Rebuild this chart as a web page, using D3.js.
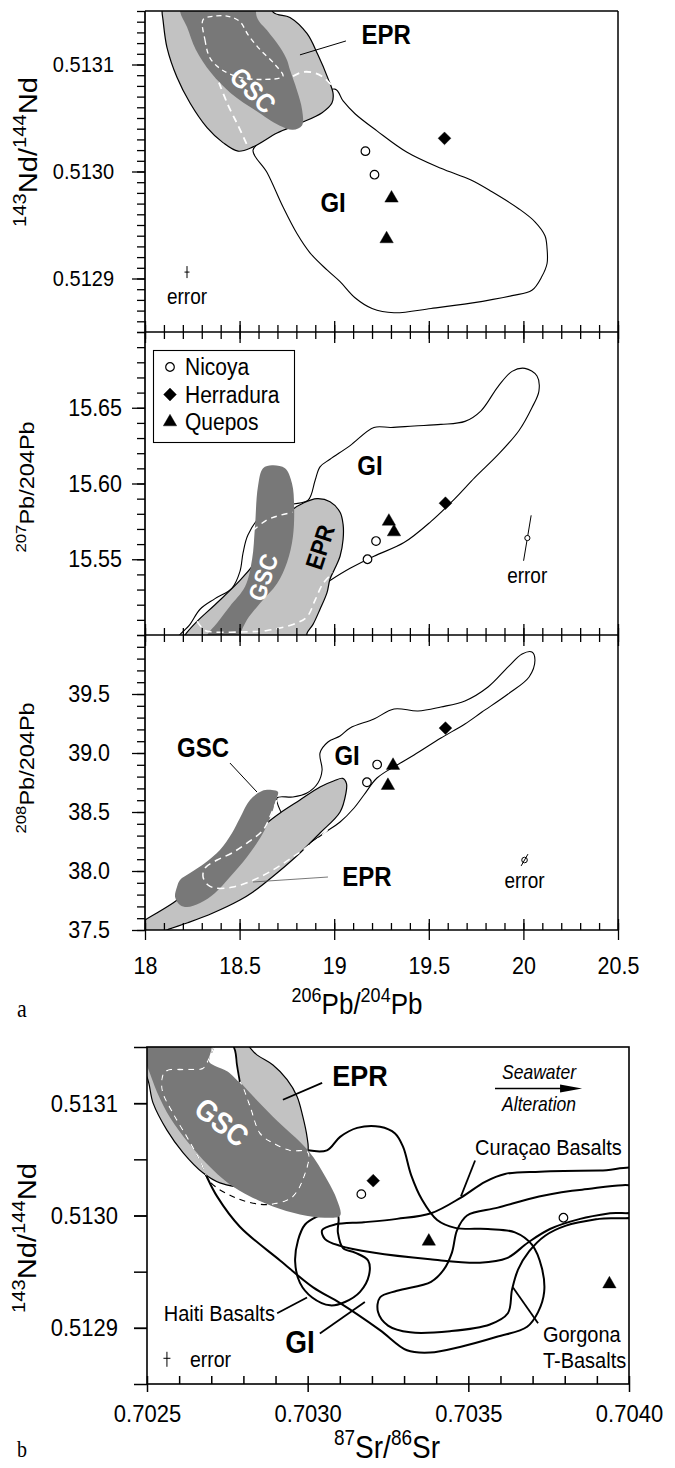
<!DOCTYPE html>
<html><head><meta charset="utf-8">
<script src="https://cdn.jsdelivr.net/npm/d3@7"></script>
<style>body{margin:0;background:#fff}svg{display:block}</style>
</head><body><svg id="c" width="675" height="1468"></svg>
<script>
// ---------------- DATA ----------------
const sampleSymbols = ["circle","circle","diamond","triangle","triangle"];
const legendNames = ["Nicoya","Herradura","Quepos"];
const legendSymbols = ["circle","diamond","triangle"];

// panel a1: 143Nd/144Nd vs 206Pb/204Pb
const pb206_p1 = [19.165,19.213,19.583,19.303,19.277];
const nd_p1    = [0.513019,0.512997,0.513031,0.512975,0.512937];
// panel a2: 207Pb/204Pb vs 206Pb/204Pb
const pb206_p2 = [19.176,19.221,19.588,19.289,19.316];
const pb207_p2 = [15.550,15.562,15.587,15.575,15.568];
// panel a3: 208Pb/204Pb vs 206Pb/204Pb
const pb206_p3 = [19.173,19.227,19.588,19.311,19.284];
const pb208_p3 = [38.752,38.902,39.211,38.894,38.724];
// panel b: 143Nd/144Nd vs 87Sr/86Sr
const sr_pb = [0.703167,0.703796,0.703204,0.703377,0.703939];
const nd_pb = [0.513019,0.512998,0.513031,0.512977,0.512939];

// tick values / labels
const xTicksA = [18,18.5,19,19.5,20,20.5];
const xLabelsA = ["18","18.5","19","19.5","20","20.5"];
const ndTicks = [0.5129,0.5130,0.5131];
const ndLabels = ["0.5129","0.5130","0.5131"];
const pb207Ticks = [15.55,15.60,15.65];
const pb207Labels = ["15.55","15.60","15.65"];
const pb208Ticks = [37.5,38.0,38.5,39.0,39.5];
const pb208Labels = ["37.5","38.0","38.5","39.0","39.5"];
const srTicks = [0.7025,0.7030,0.7035,0.7040];
const srLabels = ["0.7025","0.7030","0.7035","0.7040"];

// ---- fields, panel a1 ----
const epr_p1 = [[18.10,0.51318],[18.090,0.513150],[18.095,0.513142],[18.116,0.513116],[18.169,0.513088],[18.238,0.513064],[18.328,0.513041],[18.412,0.513027],[18.492,0.513019],[18.571,0.513023],[18.698,0.513036],[18.819,0.513045],[18.936,0.513055],[18.988,0.513064],[18.994,0.513073],[18.967,0.513087],[18.914,0.513109],[18.856,0.513129],[18.766,0.513144],[18.677,0.513149],[18.62,0.51318]];
const gsc_p1 = [[18.19,0.51318],[18.185,0.513150],[18.222,0.513135],[18.268,0.513114],[18.350,0.513092],[18.455,0.513073],[18.585,0.513057],[18.710,0.513043],[18.782,0.513039],[18.830,0.513043],[18.830,0.513058],[18.803,0.513076],[18.766,0.513095],[18.751,0.513104],[18.714,0.513116],[18.645,0.513132],[18.592,0.513144],[18.57,0.51318]];
const gi_p1 = [[18.571,0.513020],[18.645,0.512999],[18.729,0.512967],[18.803,0.512942],[18.872,0.512924],[18.962,0.512908],[19.031,0.512897],[19.110,0.512882],[19.200,0.512872],[19.316,0.512868],[19.512,0.512872],[19.723,0.512877],[19.940,0.512884],[20.045,0.512889],[20.098,0.512902],[20.125,0.512914],[20.125,0.512928],[20.114,0.512940],[20.061,0.512953],[19.977,0.512965],[19.834,0.512981],[19.723,0.512992],[19.564,0.513003],[19.385,0.513018],[19.226,0.513038],[19.110,0.513054],[19.047,0.513066],[19.004,0.513077],[18.819,0.513057],[18.661,0.513034]];
const dashLoop_p1 = [[18.307,0.513142],[18.317,0.513123],[18.344,0.513106],[18.407,0.513095],[18.502,0.513088],[18.618,0.513086],[18.729,0.513089],[18.687,0.513100],[18.608,0.513114],[18.544,0.513128],[18.502,0.513140],[18.439,0.513145],[18.359,0.513145]];
const dashA_p1 = [[18.391,0.513083],[18.439,0.513062],[18.492,0.513043],[18.539,0.513025]];
const dashB_p1 = [[18.782,0.513089],[18.835,0.513093],[18.899,0.513092],[18.951,0.513087],[18.988,0.513080]];

// ---- fields, panel a2 ----
const epr_p2 = [[18.185,15.495],[18.211,15.500],[18.275,15.509],[18.370,15.520],[18.502,15.536],[18.634,15.556],[18.740,15.576],[18.782,15.583],[18.835,15.587],[18.909,15.590],[18.978,15.588],[19.031,15.581],[19.047,15.573],[19.047,15.563],[19.031,15.552],[19.004,15.544],[18.978,15.537],[18.962,15.528],[18.925,15.517],[18.888,15.507],[18.856,15.501],[18.851,15.495]];
const gsc_p2 = [[18.317,15.495],[18.328,15.500],[18.381,15.508],[18.449,15.519],[18.529,15.532],[18.566,15.550],[18.581,15.571],[18.597,15.598],[18.624,15.610],[18.671,15.612],[18.740,15.610],[18.777,15.600],[18.788,15.585],[18.782,15.565],[18.751,15.548],[18.698,15.534],[18.608,15.521],[18.539,15.510],[18.502,15.500],[18.492,15.495]];
const gi_p2 = [[18.159,15.495],[18.238,15.507],[18.291,15.517],[18.370,15.524],[18.460,15.531],[18.502,15.542],[18.518,15.554],[18.544,15.566],[18.618,15.579],[18.766,15.586],[18.862,15.589],[18.899,15.602],[18.925,15.611],[18.978,15.616],[19.084,15.625],[19.210,15.637],[19.300,15.637],[19.422,15.638],[19.564,15.639],[19.691,15.641],[19.776,15.648],[19.866,15.664],[19.940,15.674],[20.008,15.676],[20.072,15.671],[20.082,15.661],[20.045,15.650],[19.977,15.635],[19.866,15.619],[19.744,15.604],[19.638,15.590],[19.512,15.575],[19.369,15.561],[19.210,15.552],[19.084,15.544],[18.978,15.536],[18.819,15.523],[18.661,15.510],[18.555,15.495]];
const dashA_p2 = [[18.275,15.509],[18.317,15.503],[18.359,15.502],[18.502,15.502],[18.645,15.503],[18.782,15.507],[18.856,15.512],[18.899,15.523],[18.941,15.534],[18.994,15.541]];
const dashB_p2 = [[18.571,15.569],[18.645,15.576],[18.714,15.579],[18.782,15.581]];

// ---- fields, panel a3 ----
const epr_p3 = [[17.974,37.56],[18.0,37.585],[18.148,37.729],[18.291,37.898],[18.465,38.119],[18.608,38.347],[18.645,38.407],[18.714,38.492],[18.819,38.602],[18.925,38.712],[19.0,38.765],[19.045,38.785],[19.065,38.74],[19.062,38.66],[19.031,38.500],[18.925,38.322],[18.819,38.153],[18.698,37.983],[18.571,37.822],[18.502,37.754],[18.359,37.644],[18.222,37.559],[18.116,37.5],[18.05,37.45],[17.974,37.45]];
const gsc_p3 = [[18.169,37.864],[18.159,37.780],[18.185,37.712],[18.222,37.695],[18.291,37.729],[18.370,37.814],[18.449,37.949],[18.539,38.119],[18.618,38.305],[18.661,38.449],[18.692,38.602],[18.703,38.669],[18.671,38.686],[18.618,38.678],[18.555,38.602],[18.502,38.449],[18.460,38.322],[18.396,38.178],[18.317,38.068],[18.238,37.983],[18.185,37.924]];
const gi_p3 = [[18.698,38.619],[18.782,38.627],[18.856,38.661],[18.914,38.746],[18.936,38.856],[18.925,39.0],[18.967,39.093],[19.031,39.144],[19.084,39.212],[19.210,39.288],[19.316,39.373],[19.443,39.356],[19.564,39.390],[19.691,39.441],[19.813,39.559],[19.919,39.729],[19.993,39.839],[20.045,39.856],[20.061,39.788],[20.030,39.644],[19.919,39.500],[19.781,39.347],[19.691,39.246],[19.564,39.127],[19.422,38.983],[19.332,38.898],[19.226,38.788],[19.157,38.644],[19.105,38.534],[19.031,38.415],[18.978,38.356],[18.819,38.220],[18.740,38.432]];
const dash_p3 = [[18.698,38.602],[18.671,38.500],[18.624,38.347],[18.539,38.237],[18.460,38.153],[18.381,38.093],[18.317,38.025],[18.307,37.949],[18.333,37.881],[18.370,37.856],[18.465,37.864],[18.608,37.949],[18.782,38.119],[18.925,38.288],[19.004,38.415]];

// ---- fields, panel b ----
const epr_pb = [[0.702447,0.513156],[0.702789,0.513156],[0.702842,0.513143],[0.702892,0.513134],[0.702936,0.513121],[0.702967,0.513106],[0.702985,0.513088],[0.702998,0.513070],[0.703001,0.513058],[0.702976,0.513042],[0.702914,0.513030],[0.702821,0.513025],[0.702727,0.513029],[0.702674,0.513038],[0.702612,0.513056],[0.702562,0.513076],[0.702519,0.513100],[0.7025,0.513123],[0.702463,0.513138]];
const gsc_pb = [[0.702463,0.513156],[0.702702,0.513156],[0.702702,0.513149],[0.702789,0.513119],[0.702892,0.513088],[0.703001,0.513058],[0.703060,0.513032],[0.703091,0.513014],[0.703101,0.513000],[0.703054,0.512998],[0.702976,0.513001],[0.702892,0.513008],[0.702821,0.513017],[0.702752,0.513029],[0.702690,0.513045],[0.702628,0.513065],[0.702572,0.513087],[0.702531,0.513110],[0.702503,0.513131],[0.702478,0.513147]];
const gap_pb = [[0.702693,0.513137],[0.702699,0.513146],[0.702715,0.513160],[0.702758,0.513160],[0.702777,0.513146],[0.702783,0.513132],[0.702789,0.513119],[0.702752,0.513128],[0.702712,0.513133]];
const gapEdge_pb = [[0.702752,0.513160],[0.702774,0.513147],[0.702780,0.513134],[0.702789,0.513119]];
const dash_pb = [[0.702708,0.513150],[0.702690,0.513138],[0.702674,0.513131],[0.702624,0.513130],[0.702556,0.513128],[0.702547,0.513112],[0.702581,0.513091],[0.702624,0.513070],[0.702665,0.513049],[0.702696,0.513030],[0.702774,0.513016],[0.702852,0.513010],[0.702908,0.513011],[0.702954,0.513017],[0.702985,0.513032],[0.703001,0.513056],[0.702945,0.513058],[0.702889,0.513065],[0.702852,0.513073],[0.702821,0.513097],[0.702796,0.513116],[0.702789,0.513119]];
const gi_pb = [[0.703001,0.513058],[0.703060,0.513058],[0.703101,0.513070],[0.703154,0.513078],[0.703225,0.513079],[0.703272,0.513073],[0.703297,0.513061],[0.703322,0.513036],[0.703356,0.513014],[0.703403,0.512996],[0.703459,0.512989],[0.703561,0.512988],[0.703645,0.512985],[0.703698,0.512974],[0.703729,0.512953],[0.703736,0.512932],[0.703717,0.512914],[0.703683,0.512901],[0.703589,0.512892],[0.703474,0.512883],[0.703381,0.512878],[0.703309,0.512880],[0.703225,0.512898],[0.703101,0.512922],[0.703017,0.512936],[0.702914,0.512960],[0.702789,0.512990],[0.702718,0.513017],[0.702687,0.513034],[0.702665,0.513049]];
const curacao_pb = [[0.704034,0.513040],[0.703910,0.513040],[0.703723,0.513039],[0.703614,0.513037],[0.703552,0.513030],[0.703477,0.513016],[0.703384,0.513002],[0.703278,0.512997],[0.703175,0.512994],[0.703085,0.512992],[0.703045,0.512987],[0.703054,0.512979],[0.703101,0.512973],[0.703203,0.512967],[0.703381,0.512961],[0.703536,0.512958],[0.703620,0.512962],[0.703686,0.512976],[0.703754,0.512988],[0.703848,0.512997],[0.703941,0.513002],[0.704034,0.513005]];
const gorgona_pb = [[0.704034,0.513024],[0.703854,0.513023],[0.703720,0.513017],[0.703592,0.513007],[0.703496,0.513000],[0.703465,0.512987],[0.703449,0.512967],[0.703424,0.512952],[0.703384,0.512941],[0.703278,0.512933],[0.703225,0.512927],[0.703219,0.512914],[0.703250,0.512902],[0.703319,0.512896],[0.703443,0.512897],[0.703567,0.512903],[0.703623,0.512913],[0.703636,0.512934],[0.703655,0.512952],[0.703689,0.512968],[0.703739,0.512982],[0.703804,0.512991],[0.703907,0.512997],[0.704034,0.513001]];
const haiti_pb = [[0.703029,0.512999],[0.702992,0.512992],[0.702970,0.512978],[0.702961,0.512959],[0.702976,0.512940],[0.703014,0.512927],[0.703070,0.512920],[0.703116,0.512923],[0.703163,0.512932],[0.703191,0.512947],[0.703188,0.512960],[0.703147,0.512967],[0.703110,0.512971],[0.703094,0.512985],[0.703094,0.513000],[0.703063,0.513002]];

// ---------------- SETUP ----------------
const FONT = '"Liberation Sans", Arial, Helvetica, sans-serif';
const K = 1.12;
const LIGHT = "#c2c2c2", DARK = "#787878";
const svg = d3.select("#c").attr("font-family", FONT);
svg.append("rect").attr("width",675).attr("height",1468).attr("fill","#fff");
const defs = svg.append("defs");

const xA = d3.scaleLinear().domain([18,20.5]).range([145,618]);
const y1 = d3.scaleLinear().domain([0.51285,0.51315]).range([332,11]);
const y2 = d3.scaleLinear().domain([15.50,15.70]).range([635,332]);
const y3 = d3.scaleLinear().domain([37.5,40.0]).range([930,635]);
const xB = d3.scaleLinear().domain([0.7025,0.7040]).range([147,629]);
const yB = d3.scaleLinear().domain([0.51285,0.51315]).range([1384,1047]);

function clipRect(id, sx, sy){
  const [x0,x1]=sx.range(), [ya,yb]=sy.range();
  defs.append("clipPath").attr("id",id).append("rect")
    .attr("x",x0).attr("y",Math.min(ya,yb)).attr("width",x1-x0).attr("height",Math.abs(ya-yb));
}
clipRect("k1",xA,y1); clipRect("k2",xA,y2); clipRect("k3",xA,y3); clipRect("kb",xB,yB);

const closedG=(sx,sy)=>d3.line().x(d=>sx(d[0])).y(d=>sy(d[1])).curve(d3.curveCatmullRomClosed.alpha(0.5));
const openG=(sx,sy)=>d3.line().x(d=>sx(d[0])).y(d=>sy(d[1])).curve(d3.curveCatmullRom.alpha(0.5));

function txt(g,x,y,s,o={}){
  const size=o.size||20;
  return g.append("text")
    .attr("transform",`translate(${x},${y}) rotate(${o.rot||0}) scale(1,${K})`)
    .attr("y",size*0.35).attr("text-anchor",o.anchor||"middle")
    .attr("font-size",size).attr("font-weight",o.bold?"bold":null)
    .attr("font-style",o.italic?"italic":null).attr("fill",o.fill||"#000")
    .attr("font-family",o.serif?'"Liberation Serif", "Times New Roman", serif':FONT)
    .text(s);
}
function rich(g,x,y,parts,o){
  const rotated=!!o.rot;
  const t=g.append("text").attr("text-anchor","middle").attr("font-size",o.size)
    .attr("transform",`translate(${x},${y}) rotate(${o.rot||0}) scale(${rotated?K:1},${rotated?1:K})`)
    .attr("y",o.size*0.35);
  let prevSup=false;
  parts.forEach(([s,sup])=>{
    const ts=t.append("tspan").text(s);
    if(sup){ ts.attr("font-size",o.sup); if(!prevSup) ts.attr("dy",-o.size*0.42); }
    else if(prevSup) ts.attr("dy",o.size*0.42);
    prevSup=sup;
  });
}
const symGen = {
  circle: d3.symbol(d3.symbolCircle,58)(),
  diamond: d3.symbol(d3.symbolSquare,82)(),
  triangle: d3.symbol(d3.symbolTriangle,78)()
};
function drawSym(g,type,x,y){
  g.append("path").attr("d",symGen[type])
    .attr("transform",`translate(${x},${y})${type==="diamond"?" rotate(45)":""}`)
    .attr("fill",type==="circle"?"#fff":"#000").attr("stroke","#000")
    .attr("stroke-width",type==="circle"?1.2:0.4);
}
function markers(g,xs,ys,sx,sy){
  xs.forEach((v,i)=>drawSym(g,sampleSymbols[i],sx(v),sy(ys[i])));
}
function axis(g,gen,scale,vals,size,o={}){
  const a=gen(scale).tickValues(vals).tickSize(size).tickPadding(o.pad||3)
    .tickFormat(o.labels?((d,i)=>o.labels[i]):(()=>""));
  const sel=g.append("g").attr("transform",o.tr||null).call(a);
  sel.select(".domain").remove();
  sel.attr("font-family",null).attr("font-size",null);
  sel.selectAll(".tick line").attr("stroke","#000").attr("stroke-width",o.sw||1.3);
  sel.selectAll("text").attr("font-size",o.fs||20).attr("fill","#000")
    .attr("transform",`scale(1,${K})`);
  if(o.ly!==undefined) sel.selectAll("text").attr("y",o.ly/K).attr("dy","0.35em");
  return sel;
}
function fieldLine(g,gen,data,o){
  return g.append("path").attr("d",gen(data)).attr("fill",o.fill||"none")
    .attr("stroke",o.stroke||"none").attr("stroke-width",o.sw||1)
    .attr("stroke-dasharray",o.dash||null).attr("stroke-linejoin","round");
}
function seg(g,sx,sy,a,b,o={}){
  g.append("line").attr("x1",sx(a[0])).attr("y1",sy(a[1])).attr("x2",sx(b[0])).attr("y2",sy(b[1]))
    .attr("stroke",o.stroke||"#000").attr("stroke-width",o.sw||1);
}

// ---------------- PANEL a1 ----------------
{
  const g=svg.append("g").attr("clip-path","url(#k1)");
  const C=closedG(xA,y1), O=openG(xA,y1);
  fieldLine(g,C,gi_p1,{stroke:"#000",sw:1.1});
  fieldLine(g,C,epr_p1,{fill:LIGHT,stroke:"#000",sw:1.2});
  fieldLine(g,C,gsc_p1,{fill:DARK});
  fieldLine(g,C,dashLoop_p1,{stroke:"#fff",sw:1.3,dash:"5,4"});
  fieldLine(g,O,dashA_p1,{stroke:"#fff",sw:1.8,dash:"7,5"});
  fieldLine(g,O,dashB_p1,{stroke:"#fff",sw:1.8,dash:"7,5"});
  seg(g,xA,y1,[18.819,0.513109],[19.062,0.513122],{sw:1});
  txt(g,xA(19.274),y1(0.513128),"EPR",{bold:true,size:24});
  txt(g,xA(18.571),y1(0.513076),"GSC",{bold:true,size:24,fill:"#fff",rot:45});
  txt(g,xA(18.994),y1(0.512971),"GI",{bold:true,size:24});
  markers(g,pb206_p1,nd_p1,xA,y1);
  const ex=xA(18.222), ey=y1(0.512906);
  g.append("line").attr("x1",ex).attr("x2",ex).attr("y1",ey-6).attr("y2",ey+6).attr("stroke","#000").attr("stroke-width",1);
  g.append("line").attr("x1",ex-2.5).attr("x2",ex+2.5).attr("y1",ey).attr("y2",ey).attr("stroke","#000").attr("stroke-width",1);
  txt(g,xA(18.222),y1(0.512883),"error",{size:19});
}
// ---------------- PANEL a2 ----------------
{
  const g=svg.append("g").attr("clip-path","url(#k2)");
  const C=closedG(xA,y2), O=openG(xA,y2);
  fieldLine(g,C,gi_p2,{stroke:"#000",sw:1.1});
  fieldLine(g,C,epr_p2,{fill:LIGHT,stroke:"#000",sw:1.2});
  fieldLine(g,C,gsc_p2,{fill:DARK});
  fieldLine(g,O,dashA_p2,{stroke:"#fff",sw:1.6,dash:"7,5"});
  fieldLine(g,O,dashB_p2,{stroke:"#fff",sw:1.4,dash:"6,5"});
  txt(g,xA(18.624),y2(15.538),"GSC",{bold:true,size:22,fill:"#fff",rot:-72});
  txt(g,xA(18.925),y2(15.558),"EPR",{bold:true,size:22,rot:-72});
  txt(g,xA(19.189),y2(15.612),"GI",{bold:true,size:24});
  markers(g,pb206_p2,pb207_p2,xA,y2);
  const ec=[20.021,15.564];
  seg(g,xA,y2,[ec[0]+0.02,ec[1]+0.015],[ec[0]-0.02,ec[1]-0.015],{sw:1});
  g.append("circle").attr("cx",xA(ec[0])).attr("cy",y2(ec[1])).attr("r",2.6).attr("fill","#fff").attr("stroke","#000").attr("stroke-width",1);
  txt(g,xA(20.02),y2(15.539),"error",{size:19});
  const lg=svg.append("g");
  lg.append("rect").attr("x",153.5).attr("y",350.5).attr("width",141).attr("height",92).attr("fill","#fff").attr("stroke","#000").attr("stroke-width",1.1);
  legendNames.forEach((n,i)=>{
    const yy=367+i*27.5;
    drawSym(lg,legendSymbols[i],170,yy);
    txt(lg,185,yy,n,{size:21,anchor:"start"});
  });
}
// ---------------- PANEL a3 ----------------
{
  const g=svg.append("g").attr("clip-path","url(#k3)");
  const C=closedG(xA,y3), O=openG(xA,y3);
  fieldLine(g,C,gi_p3,{stroke:"#000",sw:1.1});
  fieldLine(g,C,epr_p3,{fill:LIGHT,stroke:"#000",sw:1.2});
  fieldLine(g,C,gsc_p3,{fill:DARK});
  fieldLine(g,O,dash_p3,{stroke:"#fff",sw:1.5,dash:"7,5"});
  seg(g,xA,y3,[18.449,38.915],[18.592,38.669],{sw:1});
  seg(g,xA,y3,[18.571,37.907],[18.967,37.949],{sw:0.8,stroke:"#555"});
  txt(g,xA(18.307),y3(39.042),"GSC",{bold:true,size:24});
  txt(g,xA(19.068),y3(38.975),"GI",{bold:true,size:24});
  txt(g,xA(19.173),y3(37.949),"EPR",{bold:true,size:24});
  markers(g,pb206_p3,pb208_p3,xA,y3);
  const ec=[20.006,38.093];
  g.append("circle").attr("cx",xA(ec[0])).attr("cy",y3(ec[1])).attr("r",2.8).attr("fill","none").attr("stroke","#000").attr("stroke-width",1);
  seg(g,xA,y3,[ec[0]+0.018,ec[1]+0.05],[ec[0]-0.018,ec[1]-0.05],{sw:1});
  txt(g,xA(20.006),y3(37.915),"error",{size:19});
}
// ---------------- AXES panels a ----------------
{
  const ax=svg.append("g");
  const minorX=d3.range(0,26).map(i=>18+i*0.1);
  const [xl,xr]=xA.range();
  [y1.range()[1],y1.range()[0],y2.range()[0],y3.range()[0]].forEach(yy=>{
    ax.append("line").attr("x1",xl).attr("x2",xr).attr("y1",yy).attr("y2",yy).attr("stroke","#000").attr("stroke-width",1.5);
  });
  ax.append("line").attr("x1",xl).attr("x2",xl).attr("y1",y1.range()[1]).attr("y2",y3.range()[0]).attr("stroke","#000").attr("stroke-width",1.7);
  ax.append("line").attr("x1",xr).attr("x2",xr).attr("y1",y1.range()[1]).attr("y2",y3.range()[0]).attr("stroke","#000").attr("stroke-width",1.5);
  const yb1=y1.range()[0], yb2=y2.range()[0], yb3=y3.range()[0];
  [[yb1,-7,-11],[yb1,7,11],[yb2,-7,-11],[yb2,7,11],[yb3,-7,-11]].forEach(([yy,mi,ma])=>{
    axis(ax,d3.axisBottom,xA,minorX,mi,{tr:`translate(0,${yy})`});
    axis(ax,d3.axisBottom,xA,xTicksA,ma,{tr:`translate(0,${yy})`});
  });
  axis(ax,d3.axisBottom,xA,xTicksA,10,{tr:`translate(0,${yb3})`,labels:xLabelsA,fs:21.5,ly:36});
  axis(ax,d3.axisLeft,y1,d3.range(0,31).map(i=>0.51285+i*0.00001),8,{tr:`translate(${xl},0)`});
  axis(ax,d3.axisLeft,y1,ndTicks,13,{tr:`translate(${xl},0)`,labels:ndLabels,fs:20,pad:18});
  axis(ax,d3.axisLeft,y2,d3.range(0,21).map(i=>15.50+i*0.01),8,{tr:`translate(${xl},0)`});
  axis(ax,d3.axisLeft,y2,pb207Ticks,13,{tr:`translate(${xl},0)`,labels:pb207Labels,fs:21.5,pad:10});
  axis(ax,d3.axisLeft,y3,d3.range(0,26).map(i=>37.5+i*0.1),8,{tr:`translate(${xl},0)`});
  axis(ax,d3.axisLeft,y3,pb208Ticks,13,{tr:`translate(${xl},0)`,labels:pb208Labels,fs:21.5,pad:22});
  rich(ax,28,152,[["143",true],["Nd/",false],["144",true],["Nd",false]],{size:26,sup:18,rot:-90});
  rich(ax,27,487,[["207",true],["Pb/204Pb",false]],{size:21,sup:15,rot:-90});
  rich(ax,27,768,[["208",true],["Pb/204Pb",false]],{size:21,sup:15,rot:-90});
  rich(ax,357,1004,[["206",true],["Pb/",false],["204",true],["Pb",false]],{size:26,sup:18});
  txt(ax,22,1008,"a",{size:22,serif:true});
}
// ---------------- PANEL b ----------------
{
  defs.append("clipPath").attr("id","fb").selectAll("path").data([epr_pb,gsc_pb]).join("path").attr("d",d=>closedG(xB,yB)(d));
  const g=svg.append("g").attr("clip-path","url(#kb)");
  const C=closedG(xB,yB), O=openG(xB,yB);
  fieldLine(g,C,curacao_pb,{stroke:"#000",sw:2});
  fieldLine(g,C,gorgona_pb,{stroke:"#000",sw:2});
  fieldLine(g,C,haiti_pb,{stroke:"#000",sw:2});
  fieldLine(g,O,gi_pb,{stroke:"#000",sw:2});
  fieldLine(g,C,epr_pb,{fill:LIGHT,stroke:"#000",sw:1.2});
  fieldLine(g,C,gsc_pb,{fill:DARK});
  fieldLine(g,C,gap_pb,{fill:"#fff"});
  fieldLine(g,O,gapEdge_pb,{stroke:"#000",sw:1.8});
  fieldLine(g,O,dash_pb,{stroke:"#000",sw:1.2,dash:"6,5"});
  const gw=g.append("g").attr("clip-path","url(#fb)");
  fieldLine(gw,O,dash_pb,{stroke:"#fff",sw:1.3,dash:"6,5"});
  seg(g,xB,yB,[0.702923,0.513103],[0.703045,0.513118],{sw:1.8});
  seg(g,xB,yB,[0.703477,0.513017],[0.703521,0.513049],{sw:1.8});
  seg(g,xB,yB,[0.702905,0.512913],[0.702998,0.512927],{sw:1.8});
  seg(g,xB,yB,[0.703038,0.512895],[0.703178,0.512923],{sw:1.8});
  seg(g,xB,yB,[0.703639,0.512936],[0.703717,0.512904],{sw:1.8});
  txt(g,xB(0.703163),yB(0.513125),"EPR",{bold:true,size:27});
  txt(g,xB(0.702733),yB(0.513083),"GSC",{bold:true,size:27,fill:"#fff",rot:38});
  txt(g,xB(0.703521),yB(0.513061),"Curaçao Basalts",{size:20,anchor:"start"});
  txt(g,xB(0.702898),yB(0.512913),"Haiti Basalts",{size:20,anchor:"end"});
  txt(g,xB(0.702976),yB(0.512887),"GI",{bold:true,size:28});
  txt(g,xB(0.703732),yB(0.512894),"Gorgona",{size:20,anchor:"start"});
  txt(g,xB(0.703732),yB(0.512871),"T-Basalts",{size:20,anchor:"start"});
  const ay=yB(0.513113), ax1=xB(0.703583), ax2=xB(0.703854);
  g.append("line").attr("x1",ax1).attr("x2",ax2-10).attr("y1",ay).attr("y2",ay).attr("stroke","#000").attr("stroke-width",1.6);
  g.append("path").attr("d",`M${ax2-22},${ay-4}L${ax2},${ay}L${ax2-22},${ay+4}Z`).attr("fill","#000");
  txt(g,xB(0.70372),yB(0.513128),"Seawater",{size:17.5,italic:true});
  txt(g,xB(0.70372),yB(0.513099),"Alteration",{size:17.5,italic:true});
  markers(g,sr_pb,nd_pb,xB,yB);
  const ex=xB(0.702562), ey=yB(0.512872);
  g.append("line").attr("x1",ex).attr("x2",ex).attr("y1",ey-7.5).attr("y2",ey+7.5).attr("stroke","#000").attr("stroke-width",1);
  g.append("line").attr("x1",ex-3.5).attr("x2",ex+3.5).attr("y1",ey-1).attr("y2",ey-1).attr("stroke","#000").attr("stroke-width",1);
  txt(g,ex+23,ey,"error",{size:19.5,anchor:"start"});

  const ax=svg.append("g");
  const [xl,xr]=xB.range(), [yb,yt]=yB.range();
  ax.append("rect").attr("x",xl).attr("y",yt).attr("width",xr-xl).attr("height",yb-yt).attr("fill","none").attr("stroke","#000").attr("stroke-width",1.6);
  axis(ax,d3.axisLeft,yB,d3.range(0,7).map(i=>0.51285+i*0.00005),13,{tr:`translate(${xl},0)`,sw:1.5});
  axis(ax,d3.axisLeft,yB,ndTicks,13,{tr:`translate(${xl},0)`,labels:ndLabels,fs:22,pad:16,sw:1.5});
  axis(ax,d3.axisBottom,xB,d3.range(0,16).map(i=>0.7025+i*0.0001),-8,{tr:`translate(0,${yb})`,sw:1.5});
  axis(ax,d3.axisBottom,xB,srTicks,8,{tr:`translate(0,${yb})`,labels:srLabels,fs:22,ly:29,sw:1.5});
  rich(ax,27,1238,[["143",true],["Nd/",false],["144",true],["Nd",false]],{size:26,sup:18,rot:-90});
  rich(ax,387,1447,[["87",true],["Sr/",false],["86",true],["Sr",false]],{size:28,sup:19});
  txt(ax,22,1449,"b",{size:20,serif:true});
}
</script></body></html>
